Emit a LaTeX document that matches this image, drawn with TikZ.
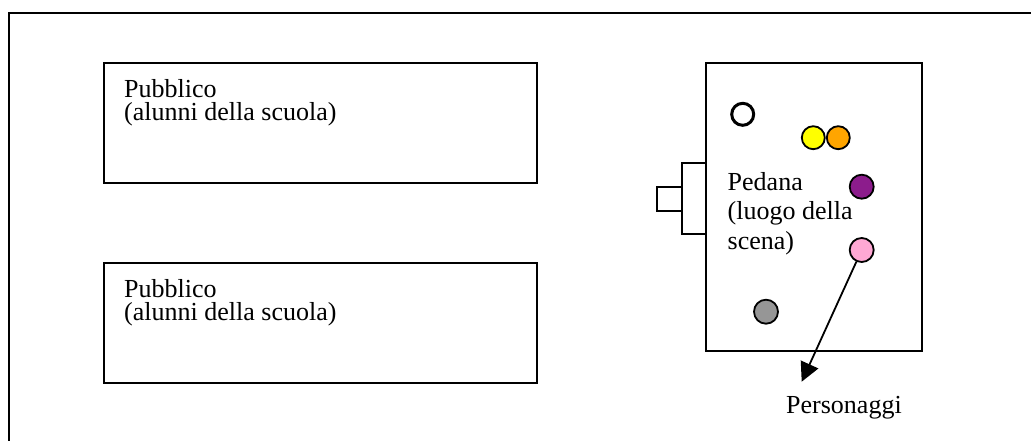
\documentclass[tikz,border=0pt]{standalone}
\usepackage{fontspec}
\setmainfont{Liberation Serif}
\usetikzlibrary{arrows.meta}
\definecolor{cyellow}{RGB}{255,255,0}
\definecolor{corange}{RGB}{255,165,0}
\definecolor{cpurple}{RGB}{140,28,140}
\definecolor{cpink}{RGB}{255,168,212}
\definecolor{cgray}{RGB}{150,150,150}
\tikzset{
  box/.style={draw=black, line width=2.2pt, inner sep=0pt},
  lbl/.style={font=\fontsize{26}{23.5}\selectfont, inner sep=0pt, anchor=base west, align=left},
  lblb/.style={font=\fontsize{26}{29.5}\selectfont, inner sep=0pt, anchor=base west, align=left},
  dot/.style={circle, draw=black, line width=1.8pt, inner sep=0pt, minimum size=24pt},
}
\begin{document}
\begin{tikzpicture}[x=1pt,y=-1pt]
\useasboundingbox (0,0) rectangle (1031,441);
\draw[line width=2.2pt] (9,441) -- (9,12.7) -- (1031,12.7);
% audience boxes
\node[box, minimum width=433pt, minimum height=120pt] (pub1) at (320.5,123) {};
\node[box, minimum width=433pt, minimum height=120pt] (pub2) at (320.5,323) {};
\node[lbl] (t1) at (124,120.8) {Pubblico\\(alunni della scuola)};
\node[lbl] (t2) at (124,320.8) {Pubblico\\(alunni della scuola)};
% stage
\node[box, minimum width=216pt, minimum height=288pt] (stage) at (814,207) {};
\node[box, minimum width=24pt, minimum height=71pt] (step1) at (694,198.5) {};
\node[box, minimum width=25pt, minimum height=24pt] (step2) at (669.5,199) {};
\node[lblb] (t3) at (727.5,249) {Pedana\\(luogo della\\scena)};
% characters
\node[dot, line width=3pt, fill=white, minimum size=22pt] (c1) at (742.7,114.3) {};
\node[dot, fill=cyellow, minimum size=23pt] (c2) at (813.3,137.7) {};
\node[dot, fill=corange, minimum size=23pt] (c3) at (838.3,137.7) {};
\node[dot, fill=cpurple] (c4) at (861.7,186.7) {};
\node[dot, fill=cpink] (c5) at (861.7,250) {};
\node[dot, fill=cgray] (c6) at (766,311.7) {};
% label and arrow
\coordinate (tip) at (801.7,381.7);
\node[font=\fontsize{26}{29}\selectfont, inner sep=0pt, anchor=base west] (pers) at (786,413.3) {Personaggi};
\draw[line width=1.8pt, -{Triangle[length=19pt, width=19pt]}] (c5) -- (tip);
\end{tikzpicture}
\end{document}
